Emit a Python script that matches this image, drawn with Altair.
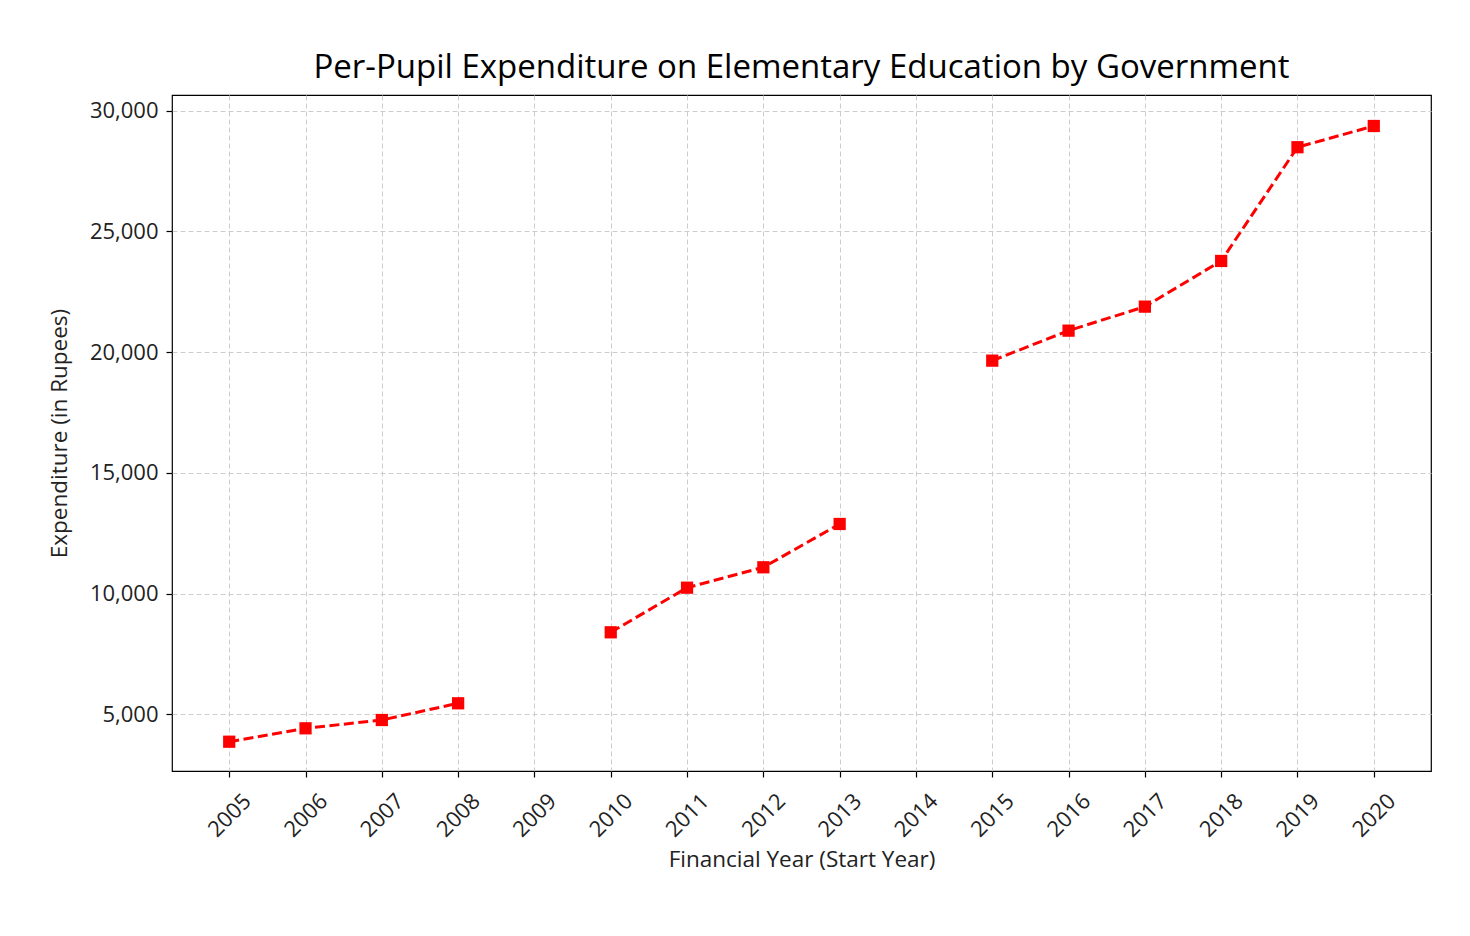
import altair as alt
import pandas as pd

years = [2005, 2006, 2007, 2008, 2009, 2010, 2011, 2012, 2013, 2014,
         2015, 2016, 2017, 2018, 2019, 2020]
expenditure = [3865, 4420, 4764, 5456, None, 8397, 10244, 11089, 12883, None,
               19648, 20890, 21885, 23777, 28487, 29366]
y_ticks = [5000, 10000, 15000, 20000, 25000, 30000]

# group contiguous runs of values so missing years break the line
s, rows = 0, []
for yr, v in zip(years, expenditure):
    if v is None:
        s += 1
        continue
    rows.append({"year": yr, "value": v, "segment": s})
df = pd.DataFrame(rows)

FONT = "Open Sans"

x = alt.X("year:Q",
          scale=alt.Scale(domain=[2004.25, 2020.75], nice=False, zero=False),
          axis=alt.Axis(values=years, format="d", labelAngle=-45,
                        labelAlign="center", labelBaseline="middle",
                        labelPadding=38, tickSize=6,
                        title="Financial Year (Start Year)",
                        titleY=95, titleBaseline="alphabetic"))
y = alt.Y("value:Q",
          scale=alt.Scale(domain=[2652, 30650], nice=False, zero=False),
          axis=alt.Axis(values=y_ticks, format=",d", tickSize=6, labelPadding=8,
                        title="Expenditure (in Rupees)", titleX=-106,
                        titleBaseline="alphabetic"))

base = alt.Chart(df)
line = base.mark_line(color="#ff0000", strokeWidth=3,
                      strokeDash=[10, 4.5]).encode(x=x, y=y, detail="segment:N")
pts = base.mark_point(shape="square", filled=True, color="#ff0000",
                      size=150, opacity=1).encode(x=x, y=y)

chart = (line + pts).properties(
    width=1259, height=676,
    title=alt.TitleParams("Per-Pupil Expenditure on Elementary Education by Government",
                          fontSize=33, font=FONT, fontWeight="normal",
                          color="#000000", anchor="middle", offset=-16,
                          baseline="alphabetic"),
    autosize=alt.AutoSizeParams(type="none"),
    padding={"left": 164, "top": 87, "right": 31, "bottom": 157},
    background="white",
).configure_view(
    stroke="#000000", strokeWidth=1.2
).configure_axis(
    labelFont=FONT, titleFont=FONT, labelFontSize=22, titleFontSize=22.5,
    labelColor="#222222", titleColor="#222222", titleFontWeight="normal",
    grid=True, gridColor="#cccccc", gridDash=[5, 3], gridWidth=1,
    domain=False, tickColor="#000000", tickWidth=1.2,
)

chart.save("out.html", embed_options={"renderer": "svg", "actions": False})
